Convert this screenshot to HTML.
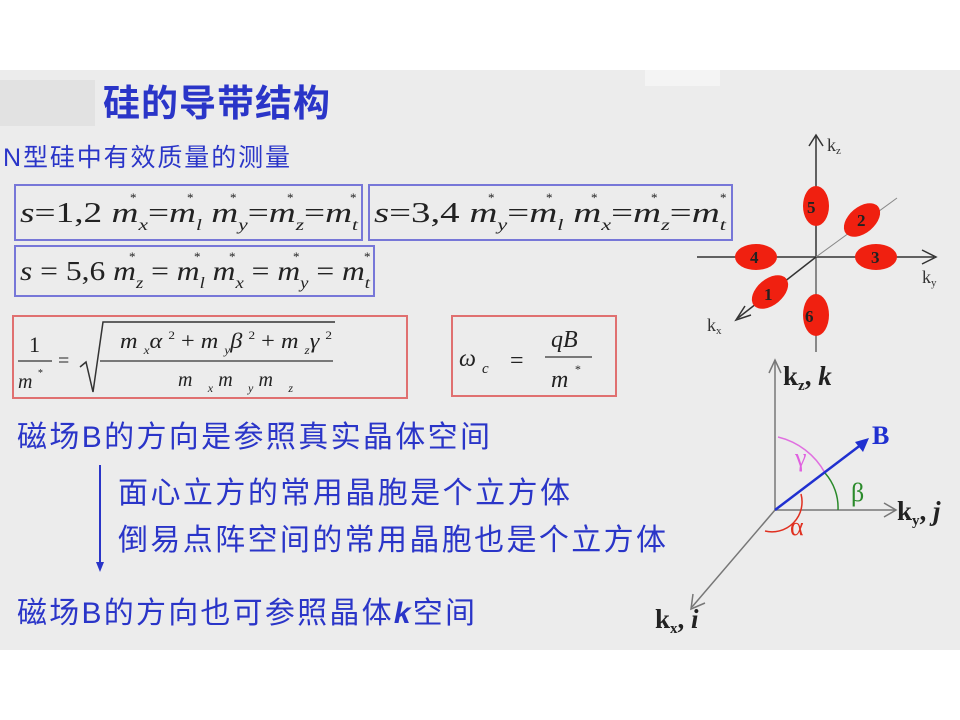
<!DOCTYPE html>
<html><head><meta charset="utf-8"><style>
body{margin:0;background:#fff}
svg{display:block}
.cn{font-family:"Liberation Sans","Noto Sans CJK SC",sans-serif;fill:#2a35c8}
.m{font-family:"Liberation Serif",serif;font-style:italic;fill:#222}
.r{font-family:"Liberation Serif",serif;fill:#222}
</style></head><body>
<svg width="960" height="720" viewBox="0 0 960 720">
<rect x="0" y="70" width="960" height="580" fill="#ececec"/>
<rect x="0" y="80" width="95" height="46" fill="#e2e2e2"/>
<rect x="645" y="70" width="75" height="16" fill="#f4f4f4"/>
<text x="103" y="116" class="cn" font-size="37" font-weight="bold" textLength="227" lengthAdjust="spacing">硅的导带结构</text>
<text x="3" y="166" class="cn" font-size="25" textLength="287" lengthAdjust="spacing">N型硅中有效质量的测量</text>

<rect x="15" y="185" width="347" height="55" fill="none" stroke="#7777d8" stroke-width="2"/>
<rect x="369" y="185" width="363" height="55" fill="none" stroke="#7777d8" stroke-width="2"/>
<rect x="15" y="246" width="359" height="50" fill="none" stroke="#7777d8" stroke-width="2"/>
<text x="20" y="222" class="m" font-size="28" textLength="338" lengthAdjust="spacingAndGlyphs">s<tspan font-style="normal">=1,2</tspan>  m<tspan font-size="16" dy="8">x</tspan><tspan dy="-8" font-style="normal">=</tspan>m<tspan font-size="16" dy="8">l</tspan><tspan dy="-8">  m</tspan><tspan font-size="16" dy="8">y</tspan><tspan dy="-8" font-style="normal">=</tspan>m<tspan font-size="16" dy="8">z</tspan><tspan dy="-8" font-style="normal">=</tspan>m<tspan font-size="16" dy="8">t</tspan></text>
<text x="374" y="222" class="m" font-size="28" textLength="352" lengthAdjust="spacingAndGlyphs">s<tspan font-style="normal">=3,4</tspan>  m<tspan font-size="16" dy="8">y</tspan><tspan dy="-8" font-style="normal">=</tspan>m<tspan font-size="16" dy="8">l</tspan><tspan dy="-8">  m</tspan><tspan font-size="16" dy="8">x</tspan><tspan dy="-8" font-style="normal">=</tspan>m<tspan font-size="16" dy="8">z</tspan><tspan dy="-8" font-style="normal">=</tspan>m<tspan font-size="16" dy="8">t</tspan></text>
<text x="20" y="280" class="m" font-size="27" textLength="350" lengthAdjust="spacingAndGlyphs">s<tspan font-style="normal"> = 5,6</tspan>  m<tspan font-size="16" dy="8">z</tspan><tspan dy="-8" font-style="normal"> = </tspan>m<tspan font-size="16" dy="8">l</tspan><tspan dy="-8">  m</tspan><tspan font-size="16" dy="8">x</tspan><tspan dy="-8" font-style="normal"> = </tspan>m<tspan font-size="16" dy="8">y</tspan><tspan dy="-8" font-style="normal"> = </tspan>m<tspan font-size="16" dy="8">t</tspan></text>
<g class="r" font-size="13" fill="#333">
<text x="130" y="202">*</text><text x="187" y="202">*</text><text x="230" y="202">*</text><text x="287" y="202">*</text><text x="350" y="202">*</text>
<text x="488" y="202">*</text><text x="546" y="202">*</text><text x="591" y="202">*</text><text x="651" y="202">*</text><text x="720" y="202">*</text>
<text x="129" y="261">*</text><text x="194" y="261">*</text><text x="229" y="261">*</text><text x="293" y="261">*</text><text x="364" y="261">*</text>
</g>

<rect x="13" y="316" width="394" height="82" fill="none" stroke="#e07070" stroke-width="2"/>
<rect x="452" y="316" width="164" height="80" fill="none" stroke="#e07070" stroke-width="2"/>
<text x="29" y="352" class="r" font-size="22">1</text>
<line x1="18" y1="361" x2="52" y2="361" stroke="#333" stroke-width="1.2"/>
<text x="18" y="388" class="m" font-size="20">m <tspan font-size="10" dy="-12">*</tspan></text>
<text x="58" y="367" class="r" font-size="20">=</text>
<path d="M80 367 L86 362 L93 392 L103 322 L335 322" fill="none" stroke="#333" stroke-width="1.5"/>
<text x="120" y="348" class="m" font-size="22" textLength="212" lengthAdjust="spacingAndGlyphs">m <tspan font-size="12" dy="6">x</tspan><tspan dy="-6">α </tspan><tspan font-size="12" dy="-9" font-style="normal">2</tspan><tspan dy="9" font-style="normal"> + </tspan>m <tspan font-size="12" dy="6">y</tspan><tspan dy="-6">β </tspan><tspan font-size="12" dy="-9" font-style="normal">2</tspan><tspan dy="9" font-style="normal"> + </tspan>m <tspan font-size="12" dy="6">z</tspan><tspan dy="-6">γ </tspan><tspan font-size="12" dy="-9" font-style="normal">2</tspan></text>
<line x1="100" y1="361" x2="333" y2="361" stroke="#333" stroke-width="1.2"/>
<text x="178" y="386" class="m" font-size="20" textLength="115" lengthAdjust="spacing">m <tspan font-size="12" dy="6">x</tspan><tspan dy="-6">m </tspan><tspan font-size="12" dy="6">y</tspan><tspan dy="-6">m </tspan><tspan font-size="12" dy="6">z</tspan></text>
<text x="459" y="366" class="m" font-size="24">ω <tspan font-size="15" dy="7">c</tspan></text>
<text x="510" y="368" class="r" font-size="24">=</text>
<text x="551" y="347" class="m" font-size="24">qB</text>
<line x1="545" y1="357" x2="592" y2="357" stroke="#333" stroke-width="1.2"/>
<text x="551" y="387" class="m" font-size="24">m <tspan font-size="12" dy="-14">*</tspan></text>

<text x="17" y="447" class="cn" font-size="30" textLength="473" lengthAdjust="spacing">磁场B的方向是参照真实晶体空间</text>
<line x1="100" y1="465" x2="100" y2="564" stroke="#2a35c8" stroke-width="2"/>
<path d="M96 562 L100 572 L104 562Z" fill="#2a35c8"/>
<text x="118" y="503" class="cn" font-size="30" textLength="452" lengthAdjust="spacing">面心立方的常用晶胞是个立方体</text>
<text x="118" y="550" class="cn" font-size="30" textLength="548" lengthAdjust="spacing">倒易点阵空间的常用晶胞也是个立方体</text>
<text x="17" y="623" class="cn" font-size="30" textLength="458" lengthAdjust="spacing">磁场B的方向也可参照晶体<tspan font-weight="bold" font-style="italic">k</tspan>空间</text>

<!-- top diagram -->
<g stroke="#333" fill="none" stroke-width="1.5">
<line x1="816" y1="258" x2="816" y2="136"/><path d="M809 146 L816 135 L823 146"/>
<line x1="816" y1="258" x2="816" y2="352" stroke="#666"/>
<line x1="697" y1="257" x2="934" y2="257"/><path d="M922 250 L936 257 L922 264"/>
<line x1="816" y1="257" x2="738" y2="318"/><path d="M745 306 L736 320 L751 315"/>
<line x1="816" y1="257" x2="897" y2="198" stroke="#888" stroke-width="1"/>
</g>
<g fill="#f02010">
<ellipse cx="816" cy="206" rx="13" ry="20"/>
<ellipse cx="862" cy="220" rx="13" ry="21" transform="rotate(50 862 220)"/>
<ellipse cx="876" cy="257" rx="21" ry="13"/>
<ellipse cx="756" cy="257" rx="21" ry="13"/>
<ellipse cx="770" cy="292" rx="13" ry="21" transform="rotate(50 770 292)"/>
<ellipse cx="816" cy="315" rx="13" ry="21"/>
</g>
<g font-family="Liberation Serif,serif" font-weight="bold" font-size="17" fill="#222">
<text x="807" y="213">5</text><text x="857" y="226">2</text><text x="871" y="263">3</text>
<text x="750" y="263">4</text><text x="764" y="300">1</text><text x="805" y="322">6</text>
</g>
<g font-family="Liberation Serif,serif" font-size="18" fill="#333">
<text x="827" y="151">k<tspan font-size="11" dy="3">z</tspan></text>
<text x="922" y="283">k<tspan font-size="11" dy="3">y</tspan></text>
<text x="707" y="331">k<tspan font-size="11" dy="3">x</tspan></text>
</g>

<!-- bottom diagram -->
<g stroke="#777" fill="none" stroke-width="1.5">
<line x1="775" y1="510" x2="775" y2="360"/><path d="M769 373 L775 360 L781 373"/>
<line x1="775" y1="510" x2="896" y2="510"/><path d="M884 503 L896 510 L884 517"/>
<line x1="775" y1="510" x2="692" y2="607"/><path d="M693 594 L691 609 L705 603"/>
</g>
<path d="M778 437 A73 73 0 0 1 825 473" fill="none" stroke="#e070e0" stroke-width="1.5"/>
<path d="M825 473 A52 52 0 0 1 838 510" fill="none" stroke="#2a8a2a" stroke-width="1.5"/>
<path d="M801 494 A30 30 0 0 1 765 531" fill="none" stroke="#e03020" stroke-width="1.5"/>
<line x1="775" y1="510" x2="862" y2="444" stroke="#2030d0" stroke-width="2.5"/>
<path d="M855 442 L869 438 L863 452Z" fill="#2030d0"/>
<text x="872" y="444" font-family="Liberation Serif,serif" font-weight="bold" font-size="26" fill="#2030d0">B</text>
<text x="795" y="466" font-family="Liberation Serif,serif" font-size="26" fill="#e060e0">γ</text>
<text x="851" y="501" font-family="Liberation Serif,serif" font-size="26" fill="#2a8a2a">β</text>
<text x="790" y="535" font-family="Liberation Serif,serif" font-size="26" fill="#e03020">α</text>
<g font-family="Liberation Serif,serif" font-weight="bold" font-size="27" fill="#222">
<text x="783" y="385">k<tspan font-size="15" dy="5">z</tspan><tspan dy="-5">, </tspan><tspan font-style="italic">k</tspan></text>
<text x="897" y="520">k<tspan font-size="15" dy="5">y</tspan><tspan dy="-5">, </tspan><tspan font-style="italic">j</tspan></text>
<text x="655" y="628">k<tspan font-size="15" dy="5">x</tspan><tspan dy="-5">,  </tspan><tspan font-style="italic">i</tspan></text>
</g>
</svg>
</body></html>
